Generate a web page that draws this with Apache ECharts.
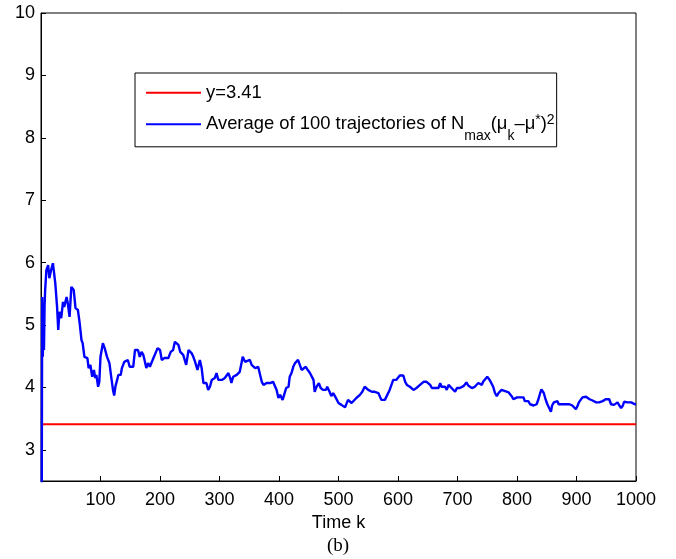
<!DOCTYPE html>
<html>
<head>
<meta charset="utf-8">
<script src="https://cdn.jsdelivr.net/npm/echarts@6/dist/echarts.min.js"></script>
<style>
  html, body { margin: 0; padding: 0; background: #fff; }
  #chart { width: 676px; height: 559px; }
</style>
</head>
<body>
<div id="chart"></div>
<script>
// x ticks / y ticks
var xTicks = [0, 100, 200, 300, 400, 500, 600, 700, 800, 900, 1000]
var yTicks = [3, 4, 5, 6, 7, 8, 9, 10]

// red reference line y=3.41
var refK = [0, 1000]
var refVal = [3.41, 3.41]

// average trajectory
var avgK = [1, 2, 3, 4, 5, 6, 7, 9, 12, 14, 17, 20, 23, 24, 27, 29, 31, 34, 37, 39, 43, 45, 48, 51, 55, 58, 62, 65, 68, 70,
  73, 78, 80, 83, 86, 89, 91, 93, 96, 98, 100, 104, 107, 111, 114, 115, 118, 121, 123, 125, 128, 130, 134, 136, 140, 143, 146, 149, 152, 155,
  158, 160, 163, 166, 169, 172, 174, 177, 180, 183, 186, 189, 191, 196, 200, 203, 207, 214, 218, 222, 225, 228, 231, 234, 236, 239, 242, 244, 248, 253,
  256, 259, 262, 263, 267, 270, 273, 276, 278, 281, 284, 287, 290, 292, 295, 298, 301, 304, 306, 309, 312, 315, 318, 320, 323, 326, 329, 334, 337, 339,
  343, 346, 351, 354, 357, 360, 365, 369, 371, 374, 376, 379, 382, 385, 390, 393, 396, 399, 402, 406, 408, 412, 416, 418, 421, 424, 427, 430, 432, 435,
  438, 441, 445, 449, 452, 455, 458, 460, 463, 467, 470, 474, 479, 481, 485, 488, 491, 494, 497, 500, 502, 505, 508, 511, 513, 516, 519, 522, 525, 530,
  536, 540, 544, 547, 550, 553, 556, 558, 561, 564, 567, 570, 572, 575, 578, 581, 584, 586, 589, 592, 595, 597, 600, 603, 606, 609, 612, 615, 617, 620,
  623, 626, 629, 631, 634, 637, 640, 643, 648, 651, 654, 657, 659, 662, 665, 668, 671, 673, 676, 679, 682, 685, 687, 690, 693, 696, 699, 701, 704, 707,
  710, 713, 715, 718, 721, 724, 729, 735, 741, 743, 746, 750, 754, 757, 760, 763, 766, 769, 771, 774, 777, 780, 783, 786, 788, 791, 794, 797, 800, 802,
  805, 808, 811, 813, 816, 819, 822, 825, 828, 830, 833, 836, 839, 841, 843, 845, 848, 851, 855, 857, 859, 862, 865, 868, 870, 873, 876, 879, 882, 885,
  888, 890, 893, 896, 899, 902, 904, 907, 910, 913, 916, 919, 922, 924, 927, 930, 933, 936, 938, 941, 944, 947, 949, 952, 955, 958, 960, 963, 966, 969,
  972, 975, 978, 980, 983, 986, 989, 992, 995, 998, 1000]
var avgVal = [1.2, 5.45, 4.49, 5.0, 4.6, 5.3, 5.56, 5.88, 5.96, 5.75, 5.88, 5.99, 6.0, 5.67, 5.29, 4.92, 5.21, 5.11, 5.37, 5.29, 5.45, 5.35, 5.13, 5.61, 5.56, 5.27, 5.24, 5.03, 4.76, 4.71,
  4.49, 4.47, 4.31, 4.36, 4.17, 4.28, 4.15, 4.2, 4.01, 4.09, 4.49, 4.71, 4.63, 4.49, 4.47, 4.39, 4.17, 3.96, 3.87, 4.01, 4.12, 4.2, 4.2, 4.31, 4.41, 4.44, 4.44, 4.33, 4.36, 4.33,
  4.6, 4.57, 4.6, 4.49, 4.57, 4.52, 4.44, 4.31, 4.39, 4.33, 4.36, 4.47, 4.49, 4.63, 4.6, 4.44, 4.47, 4.47, 4.57, 4.6, 4.73, 4.73, 4.68, 4.57, 4.6, 4.52, 4.49, 4.36, 4.6, 4.55,
  4.49, 4.41, 4.39, 4.28, 4.44, 4.31, 4.07, 4.04, 4.07, 3.96, 4.01, 4.12, 4.09, 4.15, 4.23, 4.12, 4.09, 4.12, 4.15, 4.15, 4.17, 4.23, 4.15, 4.07, 4.17, 4.15, 4.2, 4.25, 4.39, 4.49,
  4.41, 4.44, 4.44, 4.36, 4.39, 4.31, 4.33, 4.17, 4.09, 4.04, 4.01, 4.07, 4.09, 4.07, 4.09, 4.07, 3.96, 3.83, 3.88, 3.8, 3.86, 3.99, 4.01, 4.17, 4.23, 4.33, 4.39, 4.41, 4.44, 4.41,
  4.28, 4.25, 4.33, 4.27, 4.23, 4.2, 4.12, 3.93, 4.01, 4.07, 3.99, 3.96, 3.96, 4.01, 3.93, 3.86, 3.91, 3.86, 3.88, 3.75, 3.78, 3.72, 3.75, 3.68, 3.67, 3.8, 3.78, 3.75, 3.78, 3.83,
  3.88, 3.93, 4.01, 3.99, 3.96, 3.93, 3.93, 3.91, 3.93, 3.93, 3.91, 3.93, 3.8, 3.83, 3.8, 3.86, 3.88, 3.96, 4.04, 4.12, 4.09, 4.12, 4.15, 4.19, 4.17, 4.19, 4.09, 4.04, 4.04, 4.01,
  3.99, 3.96, 3.96, 3.99, 4.01, 4.04, 4.07, 4.09, 4.09, 4.07, 4.04, 3.99, 3.96, 3.99, 4.01, 3.99, 4.07, 4.01, 3.99, 4.01, 3.96, 4.04, 4.01, 3.99, 4.01, 3.93, 3.99, 3.96, 3.99, 4.01,
  4.02, 4.04, 4.08, 4.03, 4.03, 3.99, 4.01, 4.07, 4.04, 4.09, 4.12, 4.17, 4.12, 4.09, 4.01, 3.91, 3.86, 3.91, 3.94, 3.96, 3.94, 3.94, 3.91, 3.92, 3.89, 3.86, 3.81, 3.78, 3.84, 3.81,
  3.84, 3.81, 3.84, 3.78, 3.76, 3.78, 3.73, 3.73, 3.71, 3.71, 3.73, 3.81, 3.91, 3.97, 3.99, 3.91, 3.81, 3.73, 3.65, 3.61, 3.71, 3.76, 3.77, 3.78, 3.73, 3.71, 3.73, 3.71, 3.73, 3.71,
  3.73, 3.73, 3.71, 3.68, 3.65, 3.71, 3.76, 3.78, 3.84, 3.86, 3.85, 3.86, 3.81, 3.78, 3.79, 3.77, 3.76, 3.77, 3.76, 3.77, 3.78, 3.77, 3.81, 3.84, 3.81, 3.73, 3.71, 3.72, 3.73, 3.76,
  3.71, 3.67, 3.71, 3.77, 3.78, 3.76, 3.77, 3.76, 3.75, 3.73, 3.73]

var font = 'Liberation Sans, Arial, Helvetica, sans-serif'

function pairs(xs, ys) {
  return xs.map(function (x, i) { return [x, ys[i]] })
}

var chart = echarts.init(document.getElementById('chart'))
chart.setOption({
  animation: false,
  backgroundColor: '#fff',
  grid: {
    left: 41, top: 13, right: 40, bottom: 78,
    show: true, borderColor: '#000', borderWidth: 1
  },
  legend: {
    left: 135,
    top: 73,
    orient: 'vertical',
    padding: [10.7, 2, 4, 11],
    itemGap: 11.6,
    itemWidth: 55,
    itemHeight: 2,
    icon: 'rect',
    backgroundColor: '#fff',
    borderColor: '#000',
    borderWidth: 1,
    data: ['y=3.41', 'avg'],
    formatter: function (name) {
      if (name === 'y=3.41') return '{m|y=3.41}'
      return '{m|Average of 100 trajectories of N}{sub|max}{m|(\u03bc}{sub|k}{m|\u2013\u03bc}{sup|*}{m|)}{sup|2}'
    },
    textStyle: {
      fontFamily: font,
      color: '#000',
      rich: {
        m: { fontFamily: font, fontSize: 18.4, color: '#000', padding: [6, 0, 6, 0] },
        sub: { fontFamily: font, fontSize: 14, color: '#000', padding: [23, 0, 0, 0] },
        sup: { fontFamily: font, fontSize: 14, color: '#000', padding: [0, 0, 8, 0] }
      }
    }
  },
  xAxis: {
    type: 'value',
    min: 0,
    max: 1000,
    interval: 100,
    name: 'Time k',
    nameLocation: 'middle',
    nameGap: 33,
    nameTextStyle: { fontFamily: font, fontSize: 18, color: '#000' },
    axisLine: { lineStyle: { color: '#000', width: 1 } },
    axisTick: { inside: true, length: 5, lineStyle: { color: '#000' } },
    axisLabel: {
      fontFamily: font, fontSize: 18, color: '#000', margin: 10,
      formatter: function (v) { return v === 0 ? '' : String(v) }
    },
    splitLine: { show: false }
  },
  yAxis: {
    type: 'value',
    min: 2.5,
    max: 10,
    axisLine: { show: true, lineStyle: { color: '#000', width: 1 } },
    axisTick: { show: true, inside: true, length: 5, customValues: yTicks, lineStyle: { color: '#000' } },
    axisLabel: { fontFamily: font, fontSize: 18, color: '#000', margin: 6, customValues: yTicks },
    splitLine: { show: false }
  },
  graphic: [{
    type: 'text',
    left: 'center',
    top: 537,
    style: { text: '(b)', font: '19px "Liberation Serif", "Times New Roman", serif', fill: '#000' }
  }],
  series: [
    {
      name: 'y=3.41',
      type: 'line',
      data: pairs(refK, refVal),
      symbol: 'none',
      lineStyle: { color: '#ff0000', width: 2 },
      itemStyle: { color: '#ff0000' }
    },
    {
      name: 'avg',
      type: 'line',
      data: pairs(avgK, avgVal),
      symbol: 'none',
      lineStyle: { color: '#0000ff', width: 2.4 },
      itemStyle: { color: '#0000ff' }
    }
  ]
})
</script>
</body>
</html>
